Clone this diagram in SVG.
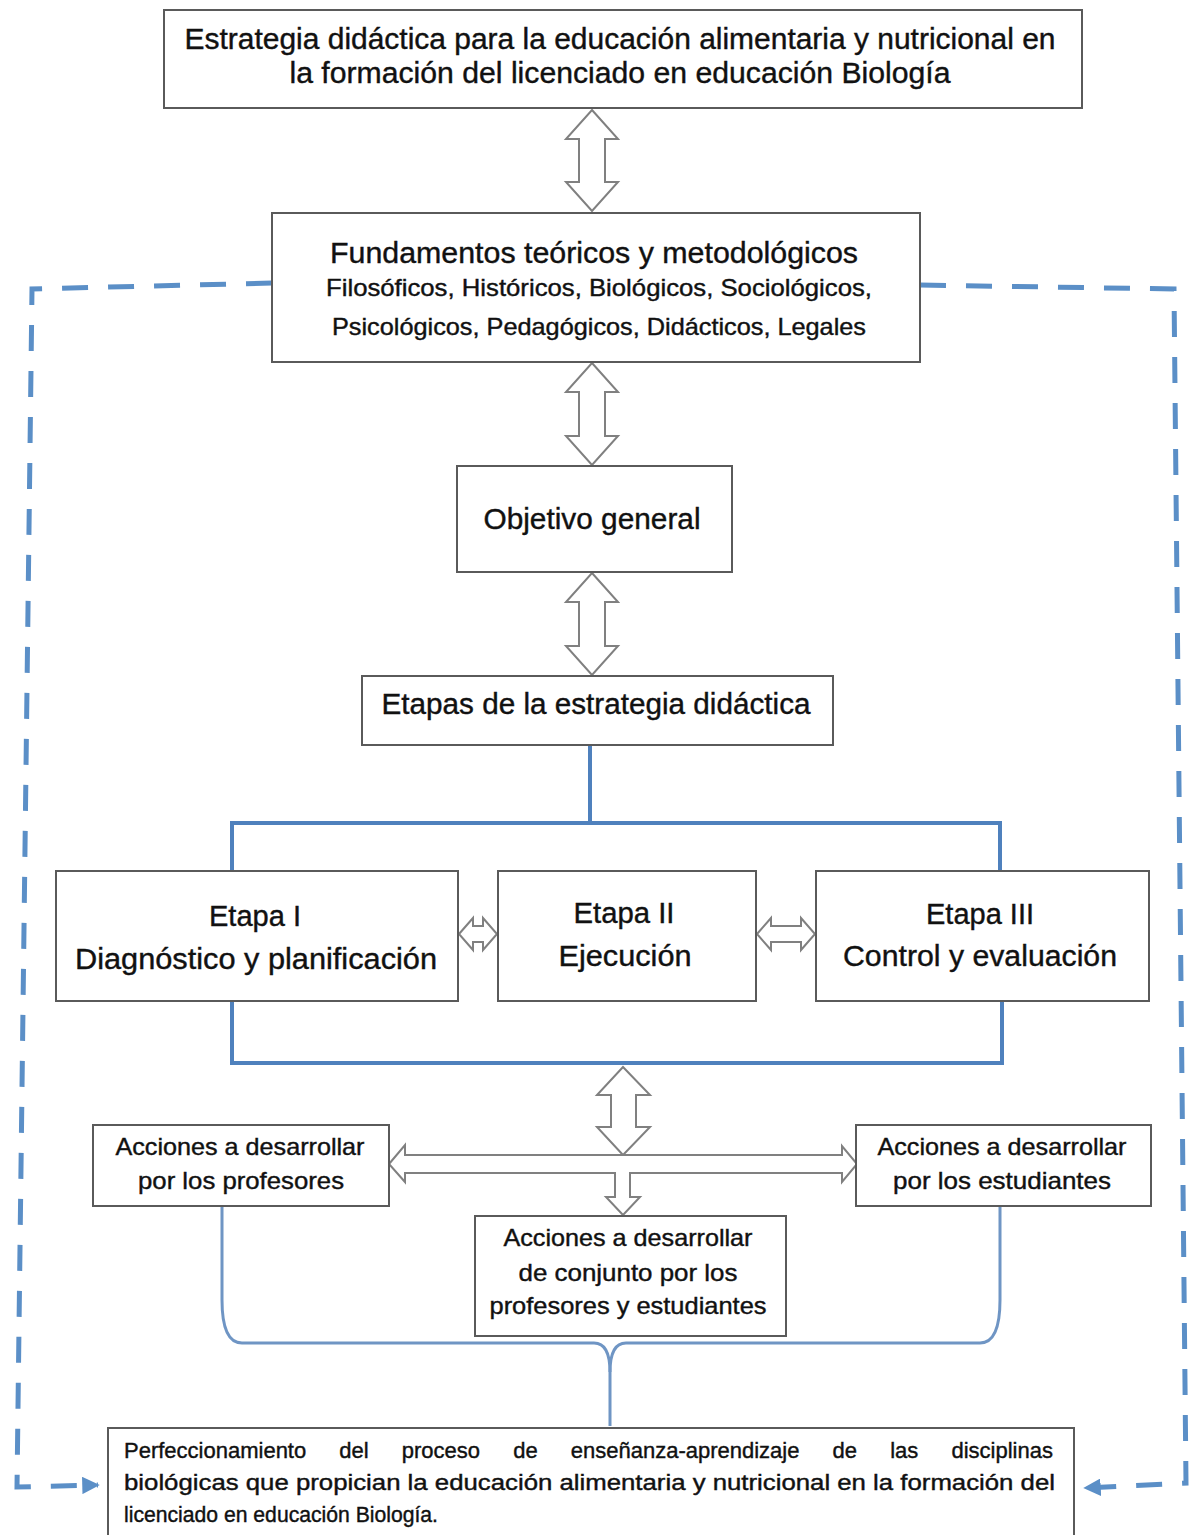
<svg xmlns="http://www.w3.org/2000/svg" width="1201" height="1535" viewBox="0 0 1201 1535">
<style>
.box{fill:#fff;stroke:#5a5a5a;stroke-width:2}
.t{font-family:"Liberation Sans",Arial,sans-serif;fill:#111;stroke:#111;stroke-width:0.4;text-anchor:middle}
.big{font-size:30px}
.mid{font-size:24px}
.sm{font-size:22px;text-anchor:start}
.arr{fill:#fff;stroke:#808080;stroke-width:2;stroke-linejoin:miter}
.ln{fill:none;stroke:#4f81bd;stroke-width:4}
.br{fill:none;stroke:#6f95c4;stroke-width:3}
.dash{fill:none;stroke:#5b8fc7;stroke-width:5;stroke-dasharray:26 20}
</style>
<defs>
<marker id="ah" viewBox="0 0 10 10" refX="9" refY="5" markerWidth="3.5" markerHeight="3.5" orient="auto" markerUnits="strokeWidth">
<path d="M0,0 L10,5 L0,10 z" fill="#5b8fc7"/>
</marker>
</defs>
<rect width="1201" height="1535" fill="#fff"/>

<g id="connectors">
<polygon class="arr" points="592,110 618,139 605,139 605,182 618,182 592,211 566,182 579,182 579,139 566,139"/>
<polygon class="arr" points="592,363 618,392 605,392 605,436 618,436 592,465 566,436 579,436 579,392 566,392"/>
<polygon class="arr" points="592,573 618,602 605,602 605,646 618,646 592,675 566,646 579,646 579,602 566,602"/>
<polyline class="ln" points="590,745 590,823"/>
<polyline class="ln" points="232,871 232,823 1000,823 1000,871"/>
<polyline class="ln" points="232,1001 232,1063 1002,1063 1002,1001"/>
<polygon class="arr" points="459,934 473,918 473,926 483,926 483,918 497,934 483,950 483,942 473,942 473,950"/>
<polygon class="arr" points="757,934 771,918 771,926 801,926 801,918 815,934 801,950 801,942 771,942 771,950"/>
<polygon class="arr" points="623,1067 650,1095 636,1095 636,1127 650,1127 623,1155 597,1127 611,1127 611,1095 597,1095"/>
<polygon class="arr" points="389,1164 405,1145 405,1155 842,1155 842,1146 857,1164 842,1182 842,1173 630,1173 630,1197 640,1197 623,1215 606,1197 615,1197 615,1173 405,1173 405,1182"/>
<path class="br" d="M222,1206 L222,1300 Q222,1343 242,1343 L594,1343 Q610,1343 610,1372 L610,1426"/>
<path class="br" d="M1000,1206 L1000,1300 Q1000,1343 980,1343 L626,1343 Q610,1343 610,1372"/>
<path class="dash" d="M272,283 L32,289 L17,1487 L98,1485" marker-end="url(#ah)"/>
<path class="dash" d="M920,285 L1174,289 L1186,1483 L1085,1488" marker-end="url(#ah)"/>
</g>

<g id="n-estrategia">
<rect class="box" x="164" y="10" width="918" height="98"/>
<text class="t big" x="620" y="49" textLength="871" lengthAdjust="spacingAndGlyphs">Estrategia didáctica para la educación alimentaria y nutricional en</text>
<text class="t big" x="620" y="83" textLength="661" lengthAdjust="spacingAndGlyphs">la formación del licenciado en educación Biología</text>
</g>

<g id="n-fundamentos">
<rect class="box" x="272" y="213" width="648" height="149"/>
<text class="t big" x="594" y="263" textLength="528" lengthAdjust="spacingAndGlyphs">Fundamentos teóricos y metodológicos</text>
<text class="t mid" x="599" y="296" textLength="546" lengthAdjust="spacingAndGlyphs">Filosóficos, Históricos, Biológicos, Sociológicos,</text>
<text class="t mid" x="599" y="335" textLength="534" lengthAdjust="spacingAndGlyphs">Psicológicos, Pedagógicos, Didácticos, Legales</text>
</g>

<g id="n-objetivo">
<rect class="box" x="457" y="466" width="275" height="106"/>
<text class="t big" x="592" y="529" textLength="217" lengthAdjust="spacingAndGlyphs">Objetivo general</text>
</g>

<g id="n-etapas">
<rect class="box" x="362" y="676" width="471" height="69"/>
<text class="t big" x="596" y="714" textLength="429" lengthAdjust="spacingAndGlyphs">Etapas de la estrategia didáctica</text>
</g>

<g id="n-etapa1">
<rect class="box" x="56" y="871" width="402" height="130"/>
<text class="t big" x="255" y="926" textLength="92" lengthAdjust="spacingAndGlyphs">Etapa I</text>
<text class="t big" x="256" y="969" textLength="362" lengthAdjust="spacingAndGlyphs">Diagnóstico y planificación</text>
</g>

<g id="n-etapa2">
<rect class="box" x="498" y="871" width="258" height="130"/>
<text class="t big" x="624" y="923" textLength="101" lengthAdjust="spacingAndGlyphs">Etapa II</text>
<text class="t big" x="625" y="966" textLength="133" lengthAdjust="spacingAndGlyphs">Ejecución</text>
</g>

<g id="n-etapa3">
<rect class="box" x="816" y="871" width="333" height="130"/>
<text class="t big" x="980" y="924" textLength="108" lengthAdjust="spacingAndGlyphs">Etapa III</text>
<text class="t big" x="980" y="966" textLength="274" lengthAdjust="spacingAndGlyphs">Control y evaluación</text>
</g>

<g id="n-profesores">
<rect class="box" x="93" y="1125" width="296" height="81"/>
<text class="t mid" x="240" y="1155" textLength="249" lengthAdjust="spacingAndGlyphs">Acciones a desarrollar</text>
<text class="t mid" x="241" y="1189" textLength="206" lengthAdjust="spacingAndGlyphs">por los profesores</text>
</g>

<g id="n-estudiantes">
<rect class="box" x="856" y="1125" width="295" height="81"/>
<text class="t mid" x="1002" y="1155" textLength="249" lengthAdjust="spacingAndGlyphs">Acciones a desarrollar</text>
<text class="t mid" x="1002" y="1189" textLength="218" lengthAdjust="spacingAndGlyphs">por los estudiantes</text>
</g>

<g id="n-conjunto">
<rect class="box" x="475" y="1216" width="311" height="120"/>
<text class="t mid" x="628" y="1246" textLength="249" lengthAdjust="spacingAndGlyphs">Acciones a desarrollar</text>
<text class="t mid" x="628" y="1281" textLength="219" lengthAdjust="spacingAndGlyphs">de conjunto por los</text>
<text class="t mid" x="628" y="1314" textLength="277" lengthAdjust="spacingAndGlyphs">profesores y estudiantes</text>
</g>

<g id="n-perfeccionamiento">
<rect class="box" x="108" y="1428" width="966" height="112"/>
<text class="t sm" x="124" y="1458" word-spacing="27">Perfeccionamiento del proceso de enseñanza-aprendizaje de las disciplinas</text>
<text class="t sm" x="124" y="1490" textLength="931" lengthAdjust="spacingAndGlyphs">biológicas que propician la educación alimentaria y nutricional en la formación del</text>
<text class="t sm" x="124" y="1522" textLength="314" lengthAdjust="spacingAndGlyphs">licenciado en educación Biología.</text>
</g>
</svg>
